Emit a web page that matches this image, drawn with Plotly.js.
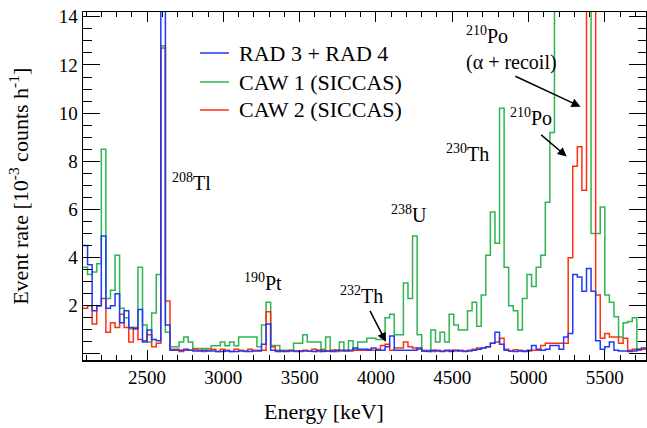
<!DOCTYPE html>
<html>
<head>
<meta charset="utf-8">
<script src="https://cdn.plot.ly/plotly-3.0.1.min.js"></script>
<style>html,body{margin:0;padding:0;background:#fff}#chart{width:647px;height:428px}</style>
</head>
<body>
<div id="chart"></div>
<script>
// Histogram binning (keV)
const binStart = 2080;
const binWidth = 30;
const nBins = 123;

// Event rate [1e-3 counts/h] per bin
const rad34 = [4.5,3.7,1.8,2.0,4.9,1.9,2.0,2.5,1.3,1.8,1.1,1.05,1.85,0.5,1.0,0.6,0.55,16,1.2,0.15,
0.15,0.15,0.2,0.15,0.12,0.12,0.15,0.12,0.12,0.1,0.1,0.12,0.1,0.1,0.12,0.12,0.1,0.12,0.12,0.4,
1.25,0.15,0.1,0.12,0.1,0.12,0.12,0.1,0.12,0.12,0.1,0.15,0.1,0.12,0.1,0.15,0.15,0.12,0.15,0.25,
0.2,0.2,0.15,0.25,0.15,0.15,0.3,0.75,0.15,0.15,0.15,0.15,0.15,0.25,0.12,0.1,0.15,0.12,0.1,0.15,
0.1,0.15,0.12,0.1,0.12,0.15,0.2,0.25,0.3,0.45,0.9,0.4,0.15,0.12,0.1,0.12,0.1,0.15,0.35,0.2,
0.15,0.2,0.35,0.35,0.2,0.7,0.85,3.3,3.2,2.6,3.55,2.6,0.55,0.2,0.3,0.5,0.15,0.12,0.12,0.1,
0.12,0.2,0.25];
const caw1 = [3.6,3.3,3.4,3.75,8.5,2.3,2.65,4.1,1.9,1.5,1.05,1.05,3.6,1.2,0.5,1.7,3.3,12.8,0.9,0.3,
0.3,0.5,0.7,0.5,0.23,0.23,0.23,0.23,0.34,0.34,0.5,0.34,0.5,0.34,0.7,0.7,0.7,0.7,0.3,1.2,
2.15,0.35,0.35,0.15,0.15,0.15,0.45,0.45,0.8,0.5,0.5,0.5,0.2,0.7,0.15,0.15,0.5,0.15,0.55,0.2,
0.5,0.5,0.65,0.65,0.6,0.6,1.5,1.65,0.8,0.8,2.95,2.3,4.9,0.8,0.15,0.15,1.0,0.5,0.9,0.5,
1.65,1.2,1.0,1.0,1.8,2.15,1.15,2.45,4.1,5.9,4.6,10.2,3.6,2.0,1.8,1.0,2.3,3.3,2.8,3.6,
4.1,6.3,9.2,17,20,22,22,22,22,22,20,5.0,5.0,6.1,2.45,2.15,1.55,0.7,1.3,1.35,
1.5,0.2,0.2];
const caw2 = [1.9,2.0,1.25,2.0,2.3,0.9,1.3,1.1,1.65,1.1,0.5,1.1,0.6,0.55,0.8,0.3,0.45,12.7,2.2,0.2,
0.2,0.1,0.15,0.15,0.2,0.15,0.1,0.15,0.2,0.1,0.2,0.15,0.1,0.2,0.15,0.1,0.2,0.15,0.15,0.15,
1.75,0.3,0.15,0.1,0.12,0.15,0.1,0.12,0.15,0.12,0.2,0.1,0.15,0.12,0.15,0.1,0.12,0.15,0.12,0.15,
0.15,0.15,0.2,0.15,0.2,0.35,0.4,0.15,0.25,0.25,0.5,0.3,0.25,0.2,0.12,0.12,0.1,0.15,0.12,0.12,
0.15,0.12,0.15,0.12,0.15,0.2,0.25,0.25,0.3,0.45,0.5,0.65,0.2,0.12,0.18,0.15,0.12,0.12,0.15,0.15,
0.35,0.45,0.45,0.45,0.45,0.45,4.0,7.8,8.6,6.8,18,16,2.45,0.65,0.85,0.7,0.7,0.45,0.65,0.15,
0.2,0.15,0.2];

const seriesNames = ['RAD 3 + RAD 4','CAW 1 (SICCAS)','CAW 2 (SICCAS)'];
const seriesColors = ['#1f3cf5','#2fb54f','#ff3010'];

function stepTrace(vals, name, color){
  const x = [], y = [];
  for (let i = 0; i < vals.length; i++){ x.push(binStart + i*binWidth); y.push(vals[i]); }
  x.push(binStart + vals.length*binWidth); y.push(vals[vals.length-1]);
  return {x:x, y:y, type:'scatter', mode:'lines', name:name, showlegend:false,
          line:{shape:'hv', color:color, width:1.5}};
}

const data = [
  stepTrace(caw1, seriesNames[1], seriesColors[1]),
  stepTrace(caw2, seriesNames[2], seriesColors[2]),
  stepTrace(rad34, seriesNames[0], seriesColors[0])
];

const serif = 'Liberation Serif, Times New Roman, serif';
const arrowBase = {showarrow:true, arrowhead:2, arrowsize:1.2, arrowwidth:1.5, arrowcolor:'#000', text:'', axref:'x', ayref:'y', xref:'x', yref:'y'};

// Plot area in pixels (for placing the legend key)
const L = 83, T = 12, W = 647 - 83 - 1, H = 428 - 12 - 68;
const px2x = p => (p - L) / W;
const py2y = p => 1 - (p - T) / H;
const legendRows = [53, 82, 110];

const shapes = [], legendTexts = [];
seriesNames.forEach((nm, i) => {
  shapes.push({type:'line', xref:'paper', yref:'paper', x0:px2x(200), x1:px2x(229), y0:py2y(legendRows[i]), y1:py2y(legendRows[i]),
               line:{color:seriesColors[i], width:1.5}});
  legendTexts.push({xref:'paper', yref:'paper', x:px2x(237), y:py2y(legendRows[i]), xanchor:'left', yanchor:'middle',
                    showarrow:false, text:nm, font:{family:serif, size:22}});
});

const layout = {
  width:647, height:428,
  margin:{l:83, r:1, t:12, b:68},
  paper_bgcolor:'#fff', plot_bgcolor:'#fff',
  font:{family:serif, size:19, color:'#000'},
  showlegend:false,
  xaxis:{range:[binStart, binStart+nBins*binWidth], tickmode:'linear', tick0:0, dtick:500,
         ticks:'inside', ticklen:10, tickwidth:1, tickcolor:'#000', mirror:'allticks',
         showline:true, linecolor:'#000', linewidth:1.5, showgrid:false, zeroline:false,
         tickfont:{family:serif, size:19},
         minor:{tickmode:'linear', tick0:0, dtick:100, ticks:'inside', ticklen:5, tickwidth:1, tickcolor:'#000', showgrid:false}},
  yaxis:{range:[-0.25, 14.2], tickmode:'array', tickvals:[0,2,4,6,8,10,12,14], ticktext:['','2','4','6','8','10','12','14'],
         ticks:'inside', ticklen:17, tickwidth:1, tickcolor:'#000', mirror:'allticks',
         showline:true, linecolor:'#000', linewidth:1.5, showgrid:false, zeroline:false,
         tickfont:{family:serif, size:19},
         minor:{tickmode:'linear', tick0:0, dtick:0.5, ticks:'inside', ticklen:8.5, tickwidth:1, tickcolor:'#000', showgrid:false}},
  shapes: shapes,
  annotations:[
    {xref:'paper', yref:'paper', x:0.428, y:-0.148, xanchor:'center', yanchor:'middle', showarrow:false,
     text:'Energy [keV]', font:{family:serif, size:22}},
    {xref:'paper', yref:'paper', x:-0.114, y:0.5, xanchor:'center', yanchor:'middle', showarrow:false, textangle:-90,
     text:'Event rate [10<sup>-3</sup> counts h<sup>-1</sup>]', font:{family:serif, size:22}},
    {xref:'x', yref:'y', x:2790, y:7.16, showarrow:false, text:'<sup>208</sup>Tl', font:{family:serif, size:20}},
    {xref:'x', yref:'y', x:3260, y:3.0, showarrow:false, text:'<sup>190</sup>Pt', font:{family:serif, size:20}},
    {xref:'x', yref:'y', x:3905, y:2.43, showarrow:false, text:'<sup>232</sup>Th', font:{family:serif, size:20}},
    {xref:'x', yref:'y', x:4217, y:5.83, showarrow:false, text:'<sup>238</sup>U', font:{family:serif, size:20}},
    {xref:'x', yref:'y', x:4603, y:8.36, showarrow:false, text:'<sup>230</sup>Th', font:{family:serif, size:20}},
    {xref:'x', yref:'y', x:5015, y:9.85, showarrow:false, text:'<sup>210</sup>Po', font:{family:serif, size:20}},
    {xref:'x', yref:'y', x:4577, y:12.68, xanchor:'left', align:'left', showarrow:false,
     text:'<sup>210</sup>Po<br>(α + recoil)', font:{family:serif, size:20}},
    Object.assign({}, arrowBase, {x:4065, y:0.51, ax:3956, ay:1.85}),
    Object.assign({}, arrowBase, {x:5250, y:8.2, ax:5073, ay:9.15}),
    Object.assign({}, arrowBase, {x:5341, y:10.27, ax:4904, ay:11.56})
  ].concat(legendTexts)
};

Plotly.newPlot('chart', data, layout, {displayModeBar:false, staticPlot:true});
</script>
</body>
</html>
